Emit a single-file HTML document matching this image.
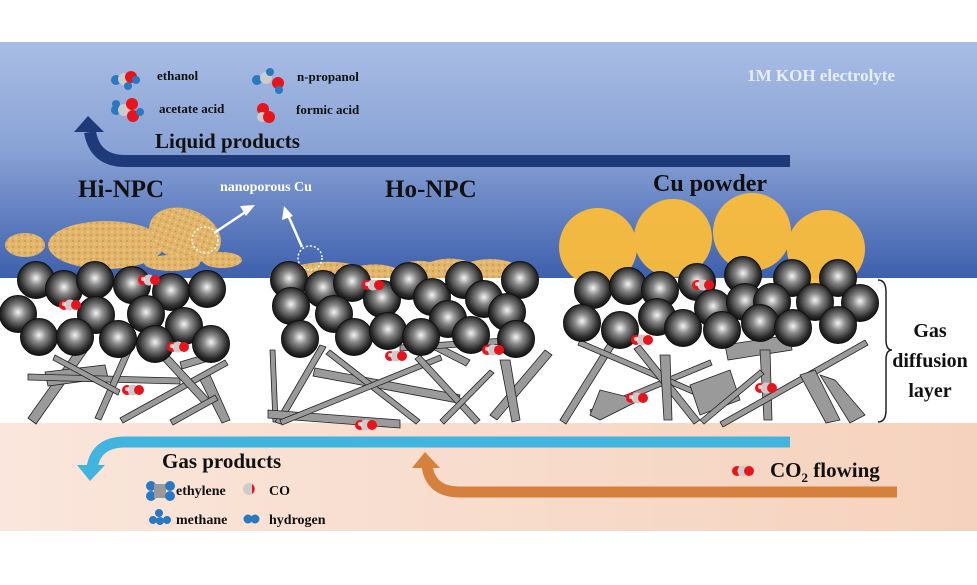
<!DOCTYPE html>
<html><head><meta charset="utf-8"><style>
html,body{margin:0;padding:0;background:#fff;}
svg{display:block;}
text{font-family:"Liberation Serif",serif;font-weight:bold;}
</style></head><body>
<svg width="977" height="585" viewBox="0 0 977 585" xmlns="http://www.w3.org/2000/svg">
<defs>
<linearGradient id="blue" x1="0" y1="0" x2="0" y2="1">
<stop offset="0" stop-color="#a9bde4"/><stop offset="0.45" stop-color="#8aa3d6"/><stop offset="1" stop-color="#3d60ad"/></linearGradient>
<linearGradient id="peach" x1="0" y1="0" x2="1" y2="0">
<stop offset="0" stop-color="#fae6dc"/><stop offset="1" stop-color="#f5d2bd"/></linearGradient>
<radialGradient id="sph" cx="0.5" cy="0.45" r="0.55">
<stop offset="0" stop-color="#f4f4f4"/><stop offset="0.35" stop-color="#8a8a8a"/><stop offset="0.8" stop-color="#2a2a2a"/><stop offset="1" stop-color="#111"/></radialGradient>
<symbol id="s" overflow="visible"><circle cx="0" cy="0" r="18.5" fill="url(#sph)" stroke="#111" stroke-width="1"/></symbol>
<symbol id="co2" overflow="visible"><circle cx="-6" cy="0" r="5" fill="#e8141c"/><circle cx="0" cy="0" r="5.5" fill="#ccc"/><circle cx="6" cy="0" r="5" fill="#e8141c"/><circle cx="-6" cy="-1" r="2" fill="#fff" opacity=".7"/></symbol>
<pattern id="tex" width="6" height="6" patternUnits="userSpaceOnUse"><rect width="6" height="6" fill="#e2b56c"/><circle cx="1" cy="1" r="0.9" fill="#c8923e"/><circle cx="4" cy="4" r="0.8" fill="#f2d7a0"/></pattern>
</defs>
<rect x="0" y="42" width="977" height="236" fill="url(#blue)"/>
<rect x="0" y="423" width="977" height="108" fill="url(#peach)"/>

<!-- Liquid arrow -->
<path d="M790 161 H125 Q95 161 90 132" fill="none" stroke="#1f3a78" stroke-width="12"/>
<polygon points="88,116 74,132 104,132" fill="#1f3a78"/>
<!-- Gas arrow -->
<path d="M790 442 H125 Q96 442 92 468" fill="none" stroke="#41b4df" stroke-width="11"/>
<polygon points="90,481 77,465 105,465" fill="#41b4df"/>
<!-- CO2 arrow -->
<path d="M897 492 H460 Q430 492 427 465" fill="none" stroke="#d6803e" stroke-width="11"/>
<polygon points="425,452 412,468 440,468" fill="#d6803e"/>

<!-- Cu powder -->
<g fill="#fbbd3c" opacity="0.95">
<circle cx="598" cy="247" r="39"/><circle cx="673" cy="238" r="39"/><circle cx="752" cy="232" r="39"/><circle cx="826" cy="249" r="39"/></g>

<!-- Nanoporous Cu -->
<g fill="url(#tex)">
<ellipse cx="25" cy="245" rx="20" ry="12"/>
<ellipse cx="106" cy="245" rx="58" ry="24"/>
<ellipse cx="185" cy="235" rx="37" ry="26" transform="rotate(20 185 235)"/>
<ellipse cx="172" cy="263" rx="28" ry="8"/>
<ellipse cx="222" cy="260" rx="20" ry="8"/>
<path d="M270 275 Q280 262 300 265 Q330 258 360 266 Q380 262 395 268 Q410 258 430 262 Q450 255 470 262 Q490 256 510 262 Q525 268 520 278 L270 278 Z"/>
</g>
<g fill="none" stroke="#fff" stroke-width="1.5" stroke-dasharray="2 2">
<circle cx="205" cy="240" r="13"/><circle cx="310" cy="258" r="12"/></g>
<g stroke="#fff" stroke-width="2.5" fill="#fff">
<line x1="214" y1="233" x2="247" y2="211"/><polygon points="255,205 240,206 246,216" stroke="none"/>
<line x1="302" y1="247" x2="288" y2="215"/><polygon points="284,206 282,220 293,216" stroke="none"/>
</g>

<!-- fibers -->
<g stroke="#222" stroke-width="0.8" fill="#9a9a9a">
<polygon points="28,418 80,345 88,350 36,424"/>
<polygon points="45,372 105,365 108,378 48,386" />
<polygon points="28,374 180,378 180,384 28,380"/>
<polygon points="95,418 125,350 131,352 101,420"/>
<polygon points="120,418 225,360 228,365 123,423"/>
<polygon points="150,335 210,400 204,405 144,340"/>
<polygon points="200,380 210,375 230,420 222,423"/>
<polygon points="180,362 220,350 222,357 182,369"/>
<polygon points="170,420 215,395 218,400 173,425"/>
<polygon points="55,355 120,390 118,395 53,360"/>
<polygon points="270,350 275,350 278,422 273,422"/>
<polygon points="275,422 320,345 326,347 281,424"/>
<polygon points="268,410 400,420 400,428 268,418"/>
<polygon points="315,368 460,395 458,403 313,376"/>
<polygon points="330,350 420,420 416,424 326,354"/>
<polygon points="280,420 440,355 442,360 282,425"/>
<polygon points="420,355 480,420 475,424 415,359"/>
<polygon points="440,420 490,370 494,373 444,424"/>
<polygon points="490,415 545,350 552,355 497,420"/>
<polygon points="500,360 510,360 520,420 512,422"/>
<polygon points="380,315 470,360 466,366 376,320"/>
<polygon points="400,345 520,337 520,343 400,351"/>
<polygon points="560,420 610,340 616,344 566,424"/>
<polygon points="590,410 710,360 712,365 592,415"/>
<polygon points="580,340 720,400 718,405 578,345"/>
<polygon points="640,345 700,420 694,424 634,349"/>
<polygon points="660,355 670,355 672,420 664,420"/>
<polygon points="690,385 730,370 740,400 700,415"/>
<polygon points="725,345 790,335 792,350 728,360"/>
<polygon points="760,350 770,350 772,420 764,420"/>
<polygon points="720,422 865,340 868,345 723,427"/>
<polygon points="800,375 815,370 840,420 826,423"/>
<polygon points="820,375 835,380 865,415 850,423"/>
<polygon points="700,420 760,370 764,374 704,424"/>
<polygon points="600,390 640,400 600,420 590,415"/>
</g>

<g>
<use href="#s" x="36" y="280"/><use href="#s" x="64" y="289"/><use href="#s" x="95" y="280"/><use href="#s" x="132" y="285"/><use href="#s" x="171" y="292"/><use href="#s" x="207" y="289"/>
<use href="#s" x="18" y="314"/><use href="#s" x="96" y="315"/><use href="#s" x="146" y="314"/><use href="#s" x="184" y="326"/>
<use href="#s" x="39" y="337"/><use href="#s" x="75" y="337"/><use href="#s" x="118" y="339"/><use href="#s" x="155" y="344"/><use href="#s" x="211" y="344"/>
<use href="#s" x="289" y="280"/><use href="#s" x="323" y="289"/><use href="#s" x="352" y="283"/><use href="#s" x="382" y="299"/><use href="#s" x="409" y="281"/><use href="#s" x="432" y="297"/><use href="#s" x="464" y="280"/><use href="#s" x="484" y="299"/><use href="#s" x="520" y="280"/><use href="#s" x="507" y="312"/>
<use href="#s" x="291" y="306"/><use href="#s" x="334" y="314"/><use href="#s" x="448" y="319"/>
<use href="#s" x="300" y="339"/><use href="#s" x="354" y="337"/><use href="#s" x="388" y="331"/><use href="#s" x="421" y="337"/><use href="#s" x="471" y="335"/><use href="#s" x="516" y="339"/>
<use href="#s" x="593" y="290"/><use href="#s" x="628" y="286"/><use href="#s" x="660" y="290"/><use href="#s" x="697" y="282"/><use href="#s" x="743" y="275"/><use href="#s" x="792" y="278"/><use href="#s" x="838" y="278"/>
<use href="#s" x="582" y="323"/><use href="#s" x="620" y="330"/><use href="#s" x="657" y="317"/><use href="#s" x="713" y="308"/><use href="#s" x="745" y="302"/><use href="#s" x="772" y="302"/><use href="#s" x="815" y="302"/><use href="#s" x="860" y="303"/>
<use href="#s" x="683" y="328"/><use href="#s" x="722" y="330"/><use href="#s" x="760" y="323"/><use href="#s" x="793" y="328"/><use href="#s" x="838" y="325"/>
</g>

<use href="#co2" x="149" y="280"/><use href="#co2" x="70" y="305"/><use href="#co2" x="178" y="347"/><use href="#co2" x="133" y="390"/>
<use href="#co2" x="373" y="285"/><use href="#co2" x="396" y="356"/><use href="#co2" x="493" y="350"/><use href="#co2" x="366" y="425"/>
<use href="#co2" x="703" y="285"/><use href="#co2" x="642" y="340"/><use href="#co2" x="637" y="398"/><use href="#co2" x="766" y="388"/>

<path d="M878 280 Q886 280 886 292 V340 Q886 350 892 350 Q886 350 886 360 V410 Q886 422 878 422" fill="none" stroke="#222" stroke-width="1.5"/>

<g>
<circle cx="116" cy="80" r="5" fill="#2a78c2"/><circle cx="124" cy="79" r="6" fill="#ccc"/><circle cx="131" cy="77" r="6" fill="#e8141c"/><circle cx="136" cy="80" r="4" fill="#2a78c2"/><circle cx="128" cy="86" r="4" fill="#2a78c2"/>
<circle cx="116" cy="110" r="5" fill="#2a78c2"/><circle cx="124" cy="110" r="6" fill="#ccc"/><circle cx="132" cy="104" r="6" fill="#e8141c"/><circle cx="133" cy="116" r="6" fill="#e8141c"/><circle cx="140" cy="112" r="4" fill="#2a78c2"/><circle cx="116" cy="104" r="4" fill="#2a78c2"/>
<circle cx="257" cy="80" r="5" fill="#2a78c2"/><circle cx="266" cy="78" r="6" fill="#ccc"/><circle cx="270" cy="72" r="4" fill="#2a78c2"/><circle cx="278" cy="83" r="6" fill="#e8141c"/><circle cx="279" cy="90" r="4" fill="#2a78c2"/>
<circle cx="263" cy="109" r="6" fill="#e8141c"/><circle cx="262" cy="117" r="5" fill="#ccc"/><circle cx="269" cy="117" r="6" fill="#e8141c"/>
<circle cx="151" cy="486" r="5" fill="#2a78c2"/><circle cx="151" cy="496" r="5" fill="#2a78c2"/><rect x="154" y="484" width="12" height="14" fill="#999"/><circle cx="170" cy="486" r="5" fill="#2a78c2"/><circle cx="170" cy="496" r="5" fill="#2a78c2"/>
<circle cx="249" cy="489" r="6" fill="#ccc"/><path d="M252 484 A6 6 0 0 1 252 494 Z" fill="#e8141c"/>
<circle cx="159" cy="513" r="4" fill="#2a78c2"/><circle cx="153" cy="520" r="4" fill="#2a78c2"/><circle cx="160" cy="521" r="4" fill="#2a78c2"/><circle cx="167" cy="520" r="4" fill="#2a78c2"/>
<circle cx="248" cy="519" r="4.5" fill="#2a78c2"/><circle cx="255" cy="519" r="4.5" fill="#2a78c2"/>
<circle cx="737" cy="471" r="5" fill="#e8141c"/><circle cx="743" cy="471" r="5.5" fill="#ccc"/><circle cx="749" cy="471" r="5" fill="#e8141c"/>
</g>

<text x="895" y="81" font-size="17" fill="#e8eefa" text-anchor="end">1M KOH electrolyte</text>
<text x="157" y="80" font-size="13" fill="#111">ethanol</text>
<text x="297" y="81" font-size="13" fill="#111">n-propanol</text>
<text x="159" y="113" font-size="13" fill="#111">acetate acid</text>
<text x="296" y="114" font-size="13" fill="#111">formic acid</text>
<text x="155" y="148" font-size="21" fill="#111">Liquid products</text>
<text x="78" y="197" font-size="25" fill="#111">Hi-NPC</text>
<text x="220" y="191" font-size="14" fill="#fff">nanoporous Cu</text>
<text x="385" y="197" font-size="25" fill="#111">Ho-NPC</text>
<text x="653" y="191" font-size="24" fill="#111">Cu powder</text>
<text x="930" y="337" font-size="20" fill="#111" text-anchor="middle">Gas</text>
<text x="930" y="367" font-size="20" fill="#111" text-anchor="middle">diffusion</text>
<text x="930" y="397" font-size="20" fill="#111" text-anchor="middle">layer</text>
<text x="162" y="468" font-size="21" fill="#111">Gas products</text>
<text x="176" y="495" font-size="14" fill="#111">ethylene</text>
<text x="269" y="495" font-size="14" fill="#111">CO</text>
<text x="176" y="524" font-size="14" fill="#111">methane</text>
<text x="269" y="524" font-size="14" fill="#111">hydrogen</text>
<text x="770" y="477" font-size="21" fill="#111">CO<tspan font-size="13" dy="5">2</tspan><tspan dy="-5"> flowing</tspan></text>
</svg>
</body></html>
